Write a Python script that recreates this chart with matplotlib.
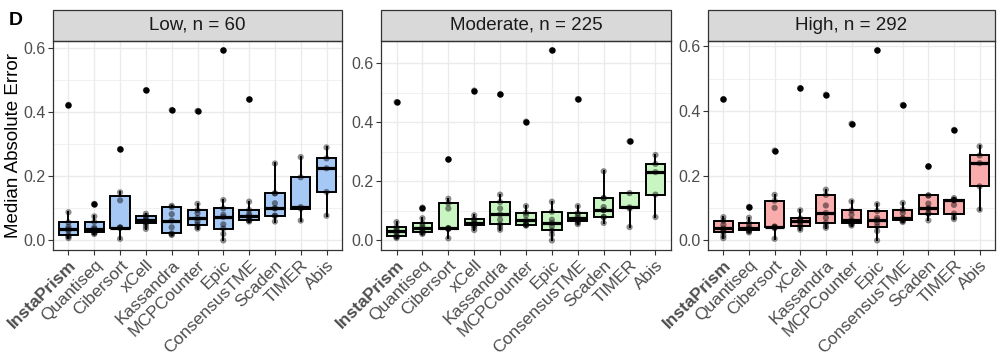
import matplotlib.pyplot as plt
import numpy as np
from matplotlib.patches import Rectangle

plt.rcParams['font.family'] = ['Liberation Sans', 'DejaVu Sans']

methods = ['InstaPrism', 'Quantiseq', 'Cibersort', 'xCell', 'Kassandra',
           'MCPCounter', 'Epic', 'ConsensusTME', 'Scaden', 'TIMER', 'Abis']
panel_titles = ['Low, n = 60', 'Moderate, n = 225', 'High, n = 292']
panel_colors = ['#A6C8F5', '#C8F5C2', '#F8ACAC']

# median absolute error per dataset, one list per method
low_mae = [
    [0.007, 0.012, 0.016, 0.030, 0.035, 0.042, 0.056, 0.088, 0.423],
    [0.020, 0.023, 0.025, 0.030, 0.036, 0.040, 0.058, 0.075, 0.114],
    [0.005, 0.040, 0.040, 0.040, 0.125, 0.150, 0.285],
    [0.036, 0.045, 0.053, 0.058, 0.063, 0.067, 0.076, 0.083, 0.469],
    [0.017, 0.020, 0.022, 0.041, 0.062, 0.082, 0.104, 0.108, 0.407],
    [0.037, 0.042, 0.049, 0.060, 0.070, 0.085, 0.095, 0.114, 0.404],
    [0.000, 0.020, 0.037, 0.050, 0.073, 0.080, 0.100, 0.126, 0.593],
    [0.059, 0.062, 0.064, 0.070, 0.076, 0.082, 0.095, 0.121, 0.440],
    [0.059, 0.077, 0.077, 0.100, 0.100, 0.116, 0.147, 0.147, 0.240],
    [0.062, 0.099, 0.104, 0.197, 0.260],
    [0.077, 0.151, 0.225, 0.256, 0.290],
]
moderate_mae = [
    [0.008, 0.012, 0.014, 0.025, 0.031, 0.038, 0.046, 0.062, 0.468],
    [0.022, 0.025, 0.028, 0.035, 0.041, 0.048, 0.058, 0.075, 0.111],
    [0.007, 0.039, 0.039, 0.041, 0.042, 0.108, 0.126, 0.141, 0.274],
    [0.035, 0.045, 0.051, 0.055, 0.058, 0.065, 0.072, 0.085, 0.507],
    [0.036, 0.045, 0.054, 0.070, 0.088, 0.108, 0.130, 0.155, 0.494],
    [0.050, 0.052, 0.053, 0.060, 0.068, 0.085, 0.094, 0.116, 0.402],
    [0.000, 0.020, 0.034, 0.048, 0.059, 0.070, 0.097, 0.131, 0.643],
    [0.055, 0.060, 0.066, 0.070, 0.075, 0.082, 0.092, 0.116, 0.478],
    [0.059, 0.079, 0.079, 0.102, 0.102, 0.113, 0.143, 0.143, 0.234],
    [0.045, 0.108, 0.112, 0.160, 0.335],
    [0.079, 0.155, 0.231, 0.259, 0.289],
]
high_mae = [
    [0.007, 0.015, 0.026, 0.032, 0.037, 0.048, 0.061, 0.072, 0.437],
    [0.025, 0.028, 0.031, 0.035, 0.038, 0.045, 0.055, 0.070, 0.104],
    [0.005, 0.038, 0.040, 0.042, 0.043, 0.101, 0.123, 0.141, 0.278],
    [0.033, 0.040, 0.046, 0.055, 0.059, 0.064, 0.068, 0.093, 0.471],
    [0.039, 0.045, 0.054, 0.070, 0.085, 0.108, 0.141, 0.157, 0.451],
    [0.046, 0.050, 0.053, 0.060, 0.064, 0.080, 0.093, 0.121, 0.361],
    [0.000, 0.029, 0.043, 0.055, 0.063, 0.070, 0.091, 0.112, 0.588],
    [0.057, 0.060, 0.063, 0.066, 0.069, 0.085, 0.095, 0.116, 0.419],
    [0.062, 0.083, 0.083, 0.099, 0.099, 0.114, 0.139, 0.139, 0.229],
    [0.066, 0.072, 0.083, 0.110, 0.124, 0.125, 0.126, 0.131, 0.342],
    [0.095, 0.167, 0.239, 0.263, 0.291],
]
panel_data = [low_mae, moderate_mae, high_mae]

fig = plt.figure(figsize=(10, 3.55), dpi=100)
lefts = [0.053, 0.381, 0.708]
widths = [0.289, 0.290, 0.287]
bottom, height = 0.296, 0.589
strip_h = 31 / 209  # strip height relative to panel height

for k, (data, title, color) in enumerate(zip(panel_data, panel_titles, panel_colors)):
    ax = fig.add_axes([lefts[k], bottom, widths[k], height])
    pos = np.arange(1, len(methods) + 1)

    ax.boxplot(data, positions=pos, widths=0.75, patch_artist=True, whis=1.5,
               showcaps=False,
               flierprops=dict(marker='o', markerfacecolor='black',
                               markeredgecolor='none', markersize=4.6),
               medianprops=dict(color='black', linewidth=2.3),
               boxprops=dict(facecolor=color, edgecolor='black', linewidth=1.4),
               whiskerprops=dict(color='black', linewidth=1.4), zorder=2)
    for i, vals in zip(pos, data):
        ax.scatter(np.full(len(vals), i), vals, s=20, color='black', alpha=0.45,
                   edgecolor='none', zorder=3)

    lo = min(min(v) for v in data)
    hi = max(max(v) for v in data)
    pad = 0.05 * (hi - lo)
    ax.set_ylim(lo - pad, hi + pad)
    ax.set_xlim(0.4, len(methods) + 0.6)

    ax.set_yticks([0.0, 0.2, 0.4, 0.6])
    ax.set_yticklabels(['0.0', '0.2', '0.4', '0.6'], fontsize=11.5)
    ax.set_yticks([0.1, 0.3, 0.5], minor=True)
    ax.set_xticks(pos)
    ax.set_xticklabels(methods, rotation=45, ha='right', va='top',
                       rotation_mode='anchor', fontsize=12.5)
    ax.get_xticklabels()[0].set_fontweight('bold')

    ax.grid(which='major', color='#EBEBEB', linewidth=1.0, zorder=0)
    ax.grid(which='minor', axis='y', color='#EBEBEB', linewidth=0.5, zorder=0)
    ax.set_axisbelow(True)
    ax.tick_params(which='major', length=3.5, width=0.8, color='#333333',
                   labelcolor='#4D4D4D', pad=2)
    ax.tick_params(which='minor', length=0)
    for sp in ax.spines.values():
        sp.set_color('#333333')
        sp.set_linewidth(0.9)

    # facet strip
    ax.add_patch(Rectangle((0, 1), 1, strip_h, transform=ax.transAxes,
                           facecolor='#D9D9D9', edgecolor='#333333',
                           linewidth=0.9, clip_on=False))
    ax.text(0.5, 1 + strip_h / 2, title, transform=ax.transAxes, ha='center',
            va='center', fontsize=13.5, color='#1A1A1A')

    if k == 0:
        ax.set_ylabel('Median Absolute Error', fontsize=13.5, labelpad=0.5)

fig.text(0.009, 0.965, 'D', fontsize=14, fontweight='bold', va='top', ha='left')

fig.savefig('out.png', dpi=100)
